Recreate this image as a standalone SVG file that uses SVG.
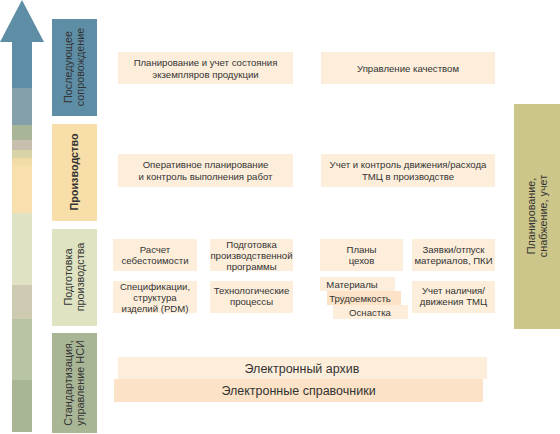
<svg xmlns="http://www.w3.org/2000/svg" width="560" height="434" viewBox="0 0 560 434">
<style>
text{font-family:"Liberation Sans",Arial,sans-serif;fill:#333;text-anchor:middle}
.c{font-size:9.6px}
.v{font-size:10.8px}
.b{font-size:12.5px}
.box{fill:#fdeedb}
.box2{fill:#fce2c6}
</style>
<rect width="560" height="434" fill="#fff"/>
<g id="arrow">
<rect x="12" y="40" width="20" height="49" fill="#5e8ea6"/>
<rect x="12" y="88" width="20" height="37" fill="#84a1ab"/>
<rect x="12" y="125" width="20" height="15" fill="#a8b597"/>
<rect x="12" y="140" width="20" height="10" fill="#c9bfae"/>
<rect x="12" y="150" width="20" height="8" fill="#d9d4a8"/>
<rect x="12" y="158" width="20" height="7" fill="#f1dca7"/>
<rect x="12" y="165" width="20" height="48" fill="#f7e0ad"/>
<rect x="12" y="213" width="20" height="72" fill="#dfe3c4"/>
<rect x="12" y="285" width="20" height="34" fill="#cfcab2"/>
<rect x="12" y="319" width="20" height="61" fill="#b8c4a4"/>
<rect x="12" y="380" width="20" height="52" fill="#a9b696"/>
<polygon points="22,0 44,42 0,42" fill="#5e8ea6"/>
</g>
<g id="cat-support">
<rect x="52" y="19" width="45" height="97" fill="#5e8ea6"/>
<text class="v" transform="translate(72,67) rotate(-90)">Последующее</text>
<text class="v" transform="translate(84,67) rotate(-90)">сопровождение</text>
</g>
<g id="cat-production">
<rect x="52" y="124" width="45" height="97" fill="#f8dea8"/>
<text class="v" transform="translate(78,172) rotate(-90)" font-weight="bold">Производство</text>
</g>
<g id="cat-prep">
<rect x="52" y="229" width="45" height="97" fill="#dfe3c2"/>
<text class="v" transform="translate(72,277) rotate(-90)">Подготовка</text>
<text class="v" transform="translate(84,277) rotate(-90)">производства</text>
</g>
<g id="cat-std">
<rect x="52" y="333" width="45" height="100" fill="#a9b696"/>
<text class="v" transform="translate(72,383) rotate(-90)">Стандартизация,</text>
<text class="v" transform="translate(84,383) rotate(-90)">управление НСИ</text>
</g>
<g id="cat-plan">
<rect x="514" y="104" width="46" height="225" fill="#cdc68a"/>
<text class="v" transform="translate(535,216) rotate(-90)">Планирование,</text>
<text class="v" transform="translate(547,216) rotate(-90)">снабжение, учет</text>
</g>
<g id="n-plan-state">
<rect class="box" x="118" y="52" width="175" height="32"/>
<text class="c" x="205.5" y="66">Планирование и учет состояния</text>
<text class="c" x="205.5" y="78">экземпляров продукции</text>
</g>
<g id="n-quality">
<rect class="box" x="321" y="52" width="174" height="32"/>
<text class="c" x="408" y="71.5">Управление качеством</text>
</g>
<g id="n-oper">
<rect class="box" x="118" y="154" width="175" height="33"/>
<text class="c" x="205.5" y="168">Оперативное планирование</text>
<text class="c" x="205.5" y="180">и контроль выполнения работ</text>
</g>
<g id="n-tmc">
<rect class="box" x="321" y="154" width="174" height="33"/>
<text class="c" x="408" y="168">Учет и контроль движения/расхода</text>
<text class="c" x="408" y="180">ТМЦ в производстве</text>
</g>
<g id="n-cost">
<rect class="box" x="113" y="239" width="84" height="32"/>
<text class="c" x="155" y="253">Расчет</text>
<text class="c" x="155" y="264">себестоимости</text>
</g>
<g id="n-prog">
<rect class="box" x="210" y="239" width="83" height="32"/>
<text class="c" x="251.5" y="248">Подготовка</text>
<text class="c" x="251.5" y="259">производственной</text>
<text class="c" x="251.5" y="270">программы</text>
</g>
<g id="n-spec">
<rect class="box" x="113" y="281" width="84" height="32"/>
<text class="c" x="155" y="290">Спецификации,</text>
<text class="c" x="155" y="301">структура</text>
<text class="c" x="155" y="312">изделий (PDM)</text>
</g>
<g id="n-tech">
<rect class="box" x="210" y="281" width="83" height="32"/>
<text class="c" x="251.5" y="294">Технологические</text>
<text class="c" x="251.5" y="305">процессы</text>
</g>
<g id="n-shops">
<rect class="box" x="320" y="239" width="83" height="32"/>
<text class="c" x="361.5" y="253">Планы</text>
<text class="c" x="361.5" y="264">цехов</text>
</g>
<g id="n-req">
<rect class="box" x="412" y="239" width="83" height="32"/>
<text class="c" x="453.5" y="253">Заявки/отпуск</text>
<text class="c" x="453.5" y="264">материалов, ПКИ</text>
</g>
<g id="n-mat">
<rect class="box" x="320" y="277" width="75" height="14"/>
<text class="c" x="352" y="287.5">Материалы</text>
</g>
<g id="n-labor">
<rect class="box2" x="327" y="291" width="74" height="14"/>
<text class="c" x="360" y="301.5">Трудоемкость</text>
</g>
<g id="n-tool">
<rect class="box" x="333" y="305" width="75" height="14"/>
<text class="c" x="370" y="315.5">Оснастка</text>
</g>
<g id="n-stock">
<rect class="box" x="412" y="281" width="83" height="32"/>
<text class="c" x="453.5" y="294">Учет наличия/</text>
<text class="c" x="453.5" y="305">движения ТМЦ</text>
</g>
<g id="n-archive">
<rect class="box" x="118" y="357" width="369" height="22"/>
<text class="b" x="302" y="372.5">Электронный архив</text>
</g>
<g id="n-ref">
<rect class="box2" x="114" y="379" width="369" height="23"/>
<text class="b" x="298.5" y="395">Электронные справочники</text>
</g>
<g id="connectors"></g>
</svg>
